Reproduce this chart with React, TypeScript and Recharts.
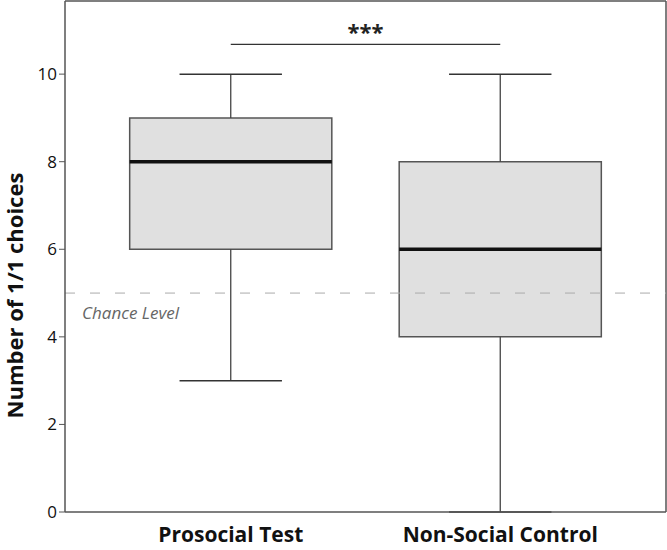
import { ComposedChart, XAxis, YAxis, ReferenceArea, ReferenceLine, Label } from 'recharts';

const categories = ['Prosocial Test', 'Non-Social Control'];
const mins = [3, 0];
const q1s = [6, 4];
const medians = [8, 6];
const q3s = [9, 8];
const maxs = [10, 10];
const yTicks = [0, 2, 4, 6, 8, 10];
const chanceLevel = 5;
const sigY = 10.68;
const sigLabel = '***';

const BOX_HALF = 0.375;
const CAP_HALF = 0.19;
const FONT = '"Open Sans", "Noto Sans", sans-serif';

export default function App() {
  const xs = categories.map((_, i) => i + 1);

  return (
    <div style={{ position: 'absolute', left: 0, top: 0, background: '#fff' }}>
      <ComposedChart
        width={667}
        height={550}
        data={[{ x: 1 }, { x: 2 }]}
        margin={{ top: 1, right: 1, bottom: 0, left: 0 }}
      >
        <XAxis
          type="number"
          dataKey="x"
          domain={[0.385, 2.615]}
          ticks={xs}
          tickFormatter={(v) => categories[v - 1]}
          height={38}
          axisLine={{ stroke: '#555', strokeWidth: 1.5 }}
          tickLine={false}
          tick={{ fill: '#111', fontSize: 21, fontWeight: 700, fontFamily: FONT }}
          tickMargin={9}
          allowDataOverflow
        />
        <YAxis
          type="number"
          domain={[0, 11.67]}
          ticks={yTicks}
          width={65}
          axisLine={{ stroke: '#555', strokeWidth: 1.5 }}
          tickLine={{ stroke: '#555' }}
          tickSize={6}
          tick={{ fill: '#111', fontSize: 17, fontFamily: FONT }}
          allowDataOverflow
        >
          <Label
            value="Number of 1/1 choices"
            angle={-90}
            position="center"
            dx={-17}
            dy={39}
            style={{ fill: '#111', fontSize: 22, fontWeight: 700, fontFamily: FONT, textAnchor: 'middle' }}
          />
        </YAxis>

        {/* frame top & right */}
        <ReferenceLine y={11.67} stroke="#555" strokeWidth={1.5} />
        <ReferenceLine x={2.615} stroke="#555" strokeWidth={1.5} />

        <ReferenceLine y={chanceLevel} stroke="#aaa" strokeDasharray="10 15" strokeWidth={1}>
          <Label
            value="Chance Level"
            position="insideBottomLeft"
            dx={12}
            dy={31}
            style={{ fill: '#666', fontSize: 17, fontStyle: 'italic', fontFamily: FONT }}
          />
        </ReferenceLine>

        {/* whiskers, drawn outside the boxes */}
        {xs.map((x, i) => (
          <ReferenceLine
            key={'wl' + i}
            segment={[{ x, y: mins[i] }, { x, y: q1s[i] }]}
            stroke="#444"
            strokeWidth={1.3}
          />
        ))}
        {xs.map((x, i) => (
          <ReferenceLine
            key={'wh' + i}
            segment={[{ x, y: q3s[i] }, { x, y: maxs[i] }]}
            stroke="#444"
            strokeWidth={1.3}
          />
        ))}
        {xs.map((x, i) => (
          <ReferenceLine
            key={'cl' + i}
            segment={[{ x: x - CAP_HALF, y: mins[i] }, { x: x + CAP_HALF, y: mins[i] }]}
            stroke="#333"
            strokeWidth={1.5}
          />
        ))}
        {xs.map((x, i) => (
          <ReferenceLine
            key={'ch' + i}
            segment={[{ x: x - CAP_HALF, y: maxs[i] }, { x: x + CAP_HALF, y: maxs[i] }]}
            stroke="#333"
            strokeWidth={1.5}
          />
        ))}
        {xs.map((x, i) => (
          <ReferenceArea
            key={'b' + i}
            x1={x - BOX_HALF}
            x2={x + BOX_HALF}
            y1={q1s[i]}
            y2={q3s[i]}
            fill="#e0e0e0"
            fillOpacity={1}
            stroke="#555"
            strokeWidth={1.5}
          />
        ))}
        {xs.map((x, i) => (
          <ReferenceLine
            key={'m' + i}
            segment={[{ x: x - BOX_HALF, y: medians[i] }, { x: x + BOX_HALF, y: medians[i] }]}
            stroke="#111"
            strokeWidth={3.5}
          />
        ))}

        <ReferenceLine
          segment={[{ x: 1, y: sigY }, { x: 2, y: sigY }]}
          stroke="#333"
          strokeWidth={1.2}
        >
          <Label
            value={sigLabel}
            position="top"
            offset={4}
            style={{ fill: '#222', fontSize: 22, fontWeight: 700, fontFamily: FONT }}
          />
        </ReferenceLine>
      </ComposedChart>
    </div>
  );
}
